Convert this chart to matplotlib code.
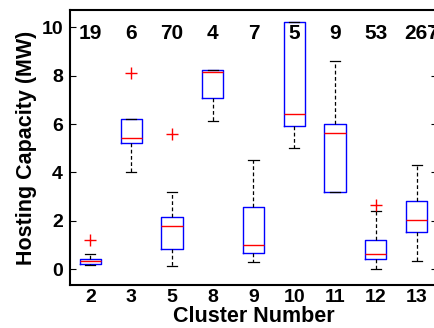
import matplotlib.pyplot as plt

plt.rcParams['font.family'] = ['Liberation Sans', 'DejaVu Sans']
plt.rcParams['font.weight'] = 'bold'

# values
clusters = ['2', '3', '5', '8', '9', '10', '11', '12', '13']
counts = ['19', '6', '70', '4', '7', '5', '9', '53', '267']
whislo = [0.17, 4.0, 0.14, 6.14, 0.28, 5.03, 3.2, 0.01, 0.32]
q1 = [0.22, 5.2, 0.81, 7.06, 0.68, 5.92, 3.2, 0.41, 1.52]
med = [0.32, 5.43, 1.78, 8.14, 0.98, 6.4, 5.61, 0.63, 2.01]
q3 = [0.41, 6.23, 2.14, 8.22, 2.58, 10.22, 6.0, 1.21, 2.8]
whishi = [0.63, 6.23, 3.2, 8.22, 4.52, 10.22, 8.6, 2.41, 4.32]
fliers = [[1.2], [8.12], [5.6], [], [], [], [], [2.63], []]

stats = []
for i in range(len(clusters)):
    stats.append({'whislo': whislo[i], 'q1': q1[i], 'med': med[i], 'q3': q3[i],
                  'whishi': whishi[i], 'fliers': fliers[i], 'label': clusters[i]})

fig = plt.figure(figsize=(4.35, 3.28), dpi=100)
ax = fig.add_axes([70 / 435, 43 / 328, 367 / 435, 275 / 328])

pos = list(range(1, len(clusters) + 1))
ax.bxp(stats, positions=pos, widths=0.52,
       boxprops=dict(color='blue', linewidth=1.0),
       medianprops=dict(color='red', linewidth=1.0),
       whiskerprops=dict(color='black', linestyle='--', linewidth=0.9, dashes=(3, 2)),
       capprops=dict(color='black', linewidth=0.9),
       capwidths=0.25,
       flierprops=dict(marker='+', markeredgecolor='red', markersize=8, linestyle='none'))

for p, c in zip(pos, counts):
    # the last label sits a bit right of its box in the original
    xp = p + 0.13 if len(c) > 2 else p
    ax.text(xp, 9.76, c, ha='center', va='center', fontsize=15, fontweight='bold')

ax.set_xlim(0.5, 9.5)
ax.set_ylim(-0.66, 10.72)
ax.set_yticks([0, 2, 4, 6, 8, 10])
ax.set_xticks(pos)
ax.set_xticklabels(clusters)
ax.tick_params(axis='y', direction='in', length=4, right=True, labelsize=14, pad=5)
ax.tick_params(axis='x', length=0, labelsize=14, pad=3)
for s in ax.spines.values():
    s.set_linewidth(1.5)

ax.set_xlabel('Cluster Number', fontsize=15.5, fontweight='bold', labelpad=0)
ax.set_ylabel('Hosting Capacity (MW)', fontsize=15.5, fontweight='bold', labelpad=3)

fig.savefig('out.png', dpi=100)
